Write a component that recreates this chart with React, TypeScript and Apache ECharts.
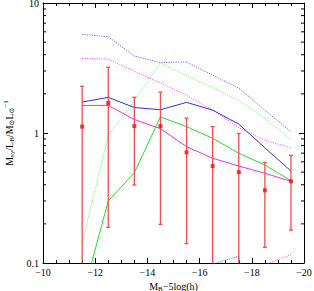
import React, { useEffect, useRef } from "react";
import * as echarts from "echarts";

const mags = [-11.5, -12.5, -13.5, -14.5, -15.5, -16.5, -17.5, -18.5, -19.5];
const blueSolid = [1.73, 1.88, 1.57, 1.51, 1.72, 1.5, 1.17, 0.77, 0.51];
const magentaSolid = [1.63, 1.63, 1.27, 1.08, 0.785, 0.64, 0.557, 0.49, 0.425];
const greenSolid = [0.054, 0.3, 0.495, 1.33, 1.12, 0.91, 0.7, 0.567, 0.43];
const blueDotted = [5.74, 5.5, 3.91, 3.48, 3.52, 2.78, 2.22, 1.5, 1.02];
const magentaDotted = [3.75, 3.7, 2.98, 2.43, 1.95, 1.5, 1.1, 0.88, 0.77];
const greenDotted = [0.142, 0.95, 1.78, 3.45, 2.76, 2.24, 1.77, 1.3, 0.88];
const blueDottedLowMags = [-15.5, -16.5, -17.5, -18.5];
const blueDottedLow = [0.01, 0.098, 0.113, 0.01];
const magentaDottedLowMags = [-17.5, -18.5, -19.5];
const magentaDottedLow = [0.02, 0.097, 0.116];
const redPts = [1.12, 1.7, 1.13, 1.13, 0.71, 0.557, 0.5, 0.362, 0.425];
const redHi = [2.29, 3.2, 1.88, 2.06, 1.3, 1.118, 0.99, 0.595, 0.673];
const redLo = [0.02, 0.188, 0.398, 0.198, 0.141, 0.02, 0.02, 0.132, 0.179];
const yMinorTicks = [0.2, 0.3, 0.4, 0.5, 0.6, 0.7, 0.8, 0.9, 2, 3, 4, 5, 6, 7, 8, 9];

const SERIF = "'Liberation Serif', 'DejaVu Serif', serif";

export default function App() {
  const ref = useRef<HTMLDivElement>(null);
  useEffect(() => {
    const chart = echarts.init(ref.current!, null, { renderer: "svg" });
    const pairs = (xs: number[], ys: number[]) => xs.map((m, i) => [m, ys[i]]);
    const axisLine = { show: true, onZero: false, lineStyle: { color: "#000", width: 1 } };
    const xBase: any = {
      type: "value",
      min: -20,
      max: -10,
      interval: 2,
      inverse: true,
      axisLine,
      axisTick: { show: true, inside: true, length: 5, lineStyle: { color: "#000" } },
      minorTick: { show: true, splitNumber: 4, length: 3, lineStyle: { color: "#000" } },
      splitLine: { show: false },
      minorSplitLine: { show: false },
    };
    const yBase: any = {
      type: "log",
      logBase: 10,
      min: 0.1,
      max: 10,
      axisLine,
      axisTick: { show: true, inside: true, length: 5, lineStyle: { color: "#000" } },
      splitLine: { show: false },
    };
    const line = (name: string, xs: number[], ys: number[], color: string, dotted: boolean) => ({
      name,
      type: "line",
      data: pairs(xs, ys),
      symbol: "none",
      clip: true,
      lineStyle: { color, width: 1, type: dotted ? [1.2, 1.2] : "solid" },
      z: 2,
    });
    chart.setOption({
      animation: false,
      backgroundColor: "#fff",
      grid: { left: 43, right: 10, top: 3, bottom: 28, outerBoundsMode: "none", containLabel: false },
      xAxis: [
        {
          ...xBase,
          position: "bottom",
          axisLabel: {
            fontFamily: SERIF,
            fontSize: 10,
            color: "#000",
            margin: 4,
            formatter: (v: number) => (v < 0 ? "\u2212" + Math.abs(v) : String(v)),
          },
          name: "{m|M}{s|B}{m|\u22125log(h)}",
          nameLocation: "middle",
          nameGap: 11,
          nameTextStyle: {
            fontFamily: SERIF,
            color: "#000",
            rich: {
              m: { fontFamily: SERIF, fontSize: 10, color: "#000", lineHeight: 11 },
              s: { fontFamily: SERIF, fontSize: 7, color: "#000", verticalAlign: "bottom", lineHeight: 11 },
            },
          },
        },
        { ...xBase, position: "top", axisLabel: { show: false } },
      ],
      yAxis: [
        {
          ...yBase,
          position: "left",
          axisLabel: {
            fontFamily: SERIF,
            fontSize: 10,
            lineHeight: 9,
            color: "#000",
            margin: 4,
            formatter: (v: number) => String(+Number(v).toPrecision(3)),
          },
          name: "{m|M}{s|sy}{m|/L}{s|B}{m|/M}{s|\u2299}{m|L}{s|\u2299}{p|\u22121}",
          nameLocation: "middle",
          nameRotate: 90,
          nameGap: 22,
          nameTextStyle: {
            fontFamily: SERIF,
            color: "#000",
            rich: {
              m: { fontFamily: SERIF, fontSize: 10, color: "#000", lineHeight: 13 },
              s: { fontFamily: SERIF, fontSize: 7, color: "#000", verticalAlign: "bottom", lineHeight: 13 },
              p: { fontFamily: SERIF, fontSize: 7, color: "#000", verticalAlign: "top", lineHeight: 13 },
            },
          },
        },
        { ...yBase, position: "right", axisLabel: { show: false } },
      ],
      series: [
        {
          type: "custom",
          coordinateSystem: "cartesian2d",
          silent: true,
          clip: false,
          data: yMinorTicks.map((v) => [-10, v]),
          encode: { x: 0, y: 1 },
          renderItem: (params: any, api: any) => {
            const v = api.value(1);
            const l = api.coord([-10, v]);
            const r = api.coord([-20, v]);
            return {
              type: "group",
              children: [
                { type: "line", shape: { x1: l[0], y1: l[1], x2: l[0] + 3, y2: l[1] }, style: { stroke: "#000", lineWidth: 1 } },
                { type: "line", shape: { x1: r[0] - 3, y1: r[1], x2: r[0], y2: r[1] }, style: { stroke: "#000", lineWidth: 1 } },
              ],
            };
          },
        },
        line("blueDotted", mags, blueDotted, "#6a6aff", true),
        line("magentaDotted", mags, magentaDotted, "#ff5cff", true),
        line("greenDotted", mags, greenDotted, "#66ff66", true),
        line("blueDottedLow", blueDottedLowMags, blueDottedLow, "#6a6aff", true),
        line("magentaDottedLow", magentaDottedLowMags, magentaDottedLow, "#ff5cff", true),
        line("blue", mags, blueSolid, "#3030f0", false),
        line("magenta", mags, magentaSolid, "#f030f0", false),
        line("green", mags, greenSolid, "#22e022", false),
        {
          type: "custom",
          coordinateSystem: "cartesian2d",
          clip: true,
          silent: true,
          data: mags.map((m, i) => [m, redLo[i], redHi[i]]),
          encode: { x: 0, y: [1, 2] },
          renderItem: (params: any, api: any) => {
            const x = api.value(0);
            const lo = api.coord([x, api.value(1)]);
            const hi = api.coord([x, api.value(2)]);
            const st = { stroke: "#f05050", lineWidth: 1.3 };
            return {
              type: "group",
              children: [
                { type: "line", shape: { x1: lo[0], y1: lo[1], x2: hi[0], y2: hi[1] }, style: st },
                { type: "line", shape: { x1: hi[0] - 2, y1: hi[1], x2: hi[0] + 2, y2: hi[1] }, style: st },
                { type: "line", shape: { x1: lo[0] - 2, y1: lo[1], x2: lo[0] + 2, y2: lo[1] }, style: st },
              ],
            };
          },
          z: 3,
        },
        {
          type: "scatter",
          data: pairs(mags, redPts),
          symbol: "rect",
          symbolSize: 4,
          itemStyle: { color: "#ee1111" },
          z: 4,
        },
      ],
    });
    return () => chart.dispose();
  }, []);
  return (
    <div
      ref={ref}
      style={{ position: "fixed", left: 0, top: 0, width: 314, height: 291 }}
    />
  );
}
